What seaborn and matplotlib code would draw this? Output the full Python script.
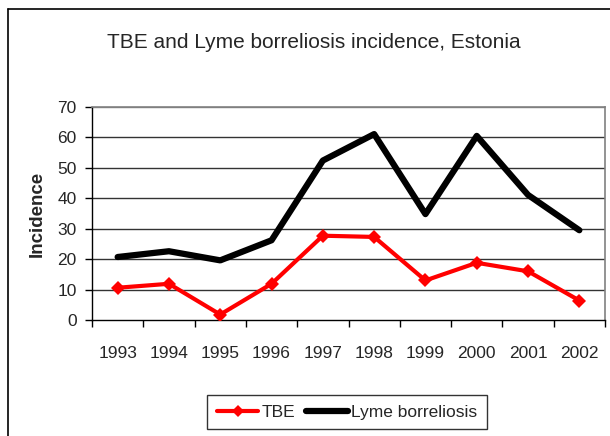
import matplotlib
matplotlib.use("Agg")
import matplotlib.pyplot as plt
import seaborn as sns
from matplotlib.lines import Line2D

years = ["1993", "1994", "1995", "1996", "1997", "1998", "1999", "2000", "2001", "2002"]
tbe = [10.6, 11.9, 1.8, 11.9, 27.7, 27.3, 13.0, 18.8, 16.0, 6.4]
lyme = [20.7, 22.6, 19.6, 26.2, 52.4, 61.1, 34.8, 60.5, 41.1, 29.5]
yticks = [0, 10, 20, 30, 40, 50, 60, 70]

sns.set_style("white")
plt.rcParams["font.family"] = ["Liberation Sans", "DejaVu Sans"]

fig = plt.figure(figsize=(6.10, 4.36), dpi=100)
ax = fig.add_axes([92 / 610, 1 - 320 / 436, (605 - 92) / 610, (320 - 107) / 436])

# outer chart border (only left and top edges are visible in the crop)
fig.add_artist(Line2D([7.5 / 610, 7.5 / 610], [0, 1 - 9 / 436], transform=fig.transFigure,
                      color="black", lw=1.2))
fig.add_artist(Line2D([7.5 / 610, 1], [1 - 9 / 436, 1 - 9 / 436], transform=fig.transFigure,
                      color="black", lw=1.2))

for y in yticks[1:]:
    ax.axhline(y, color="#333333" if y < 70 else "#808080", lw=1, zorder=0)

sns.lineplot(x=years, y=lyme, color="black", lw=4.5, sort=False, ax=ax, zorder=3)
sns.lineplot(x=years, y=tbe, color="#FF0000", lw=3, marker="D", markersize=7,
             markeredgewidth=0, sort=False, ax=ax, zorder=4)

ax.set_xlim(-0.5, len(years) - 0.5)
ax.set_ylim(0, 70)
ax.set_yticks(yticks)
ax.set_xticks(range(len(years)))
ax.set_xticklabels(years)
ax.set_xticks([i - 0.5 for i in range(len(years) + 1)], minor=True)
ax.tick_params(axis="x", which="major", length=0, pad=19, labelsize=12.5)
ax.tick_params(axis="x", which="minor", length=5, width=1, color="black", direction="out", bottom=True)
ax.tick_params(axis="y", length=5, width=1, color="black", direction="out", left=True,
               labelsize=12.5, pad=6)

for side in ("left", "bottom"):
    ax.spines[side].set_color("black")
    ax.spines[side].set_linewidth(1)
for side in ("top", "right"):
    ax.spines[side].set_visible(True)
    ax.spines[side].set_color("#808080")
    ax.spines[side].set_linewidth(1.2)

ax.set_xlabel("")
ax.set_ylabel("Incidence", fontsize=13.5, fontweight="bold", labelpad=8)

fig.text(314 / 610, 1 - 42 / 436, "TBE and Lyme borreliosis incidence, Estonia",
         ha="center", va="center", fontsize=15)

handles = [Line2D([], [], color="#FF0000", lw=3, marker="D", markersize=6, markeredgewidth=0),
           Line2D([], [], color="black", lw=4.5)]
leg = fig.legend(handles, ["TBE", "Lyme borreliosis"], ncol=2, loc="center",
                 bbox_to_anchor=(347 / 610, 1 - 412 / 436), frameon=True, fancybox=False,
                 fontsize=12.5, handlelength=2.4, handletextpad=0.2, columnspacing=0.6,
                 borderpad=0.55, borderaxespad=0)
leg.get_frame().set_edgecolor("black")
leg.get_frame().set_linewidth(1)

fig.savefig("out.png", dpi=100)
